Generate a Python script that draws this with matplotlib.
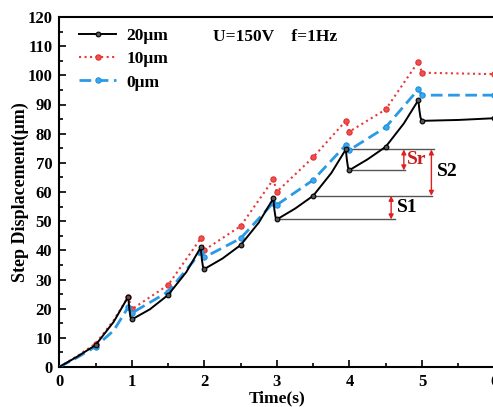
import matplotlib
matplotlib.use("Agg")
import matplotlib.pyplot as plt
from matplotlib.ticker import MultipleLocator

plt.rcParams['font.family'] = ['Liberation Serif', 'DejaVu Serif']
plt.rcParams['font.weight'] = 'bold'

# ---- data ----
t_black = [0, 0.25, 0.5, 0.75, 0.95, 0.965, 0.98, 1.0, 1.25, 1.5, 1.75, 1.95, 1.965, 1.98, 2.0,
           2.25, 2.5, 2.75, 2.95, 2.965, 2.98, 3.0, 3.25, 3.5, 3.75, 3.95, 3.965, 3.98, 4.0,
           4.25, 4.5, 4.75, 4.95, 4.965, 4.98, 5.0, 5.5, 6.0]
v_black = [0, 3.6, 7.5, 15.5, 24.1, 20.0, 17.2, 16.3, 19.8, 24.7, 32.5, 41.0, 37.0, 34.5, 33.6,
           37.2, 41.8, 49.5, 57.8, 54.0, 51.5, 50.6, 54.3, 58.7, 66.5, 74.6, 71.0, 68.5, 67.5,
           71.2, 75.5, 83.5, 91.5, 88.0, 85.5, 84.4, 84.7, 85.3]

t_red = [0, 0.25, 0.5, 0.75, 0.95, 1.0, 1.5, 1.95, 2.0, 2.5, 2.95, 3.0, 3.5, 3.95, 4.0,
         4.5, 4.95, 5.0, 6.0]
v_red = [0, 3.8, 8.0, 16.0, 24.1, 19.8, 28.1, 44.1, 40.1, 48.3, 64.3, 60.1, 71.9, 84.4, 80.7,
         88.3, 104.7, 100.9, 100.4]

t_blue = [0, 0.25, 0.5, 0.75, 0.95, 1.0, 1.5, 1.95, 2.0, 2.5, 2.95, 3.0, 3.5, 3.95, 4.0,
          4.5, 4.95, 5.0, 6.0]
v_blue = [0, 3.3, 7.0, 12.5, 20.5, 18.5, 25.8, 39.3, 37.6, 44.1, 56.3, 55.6, 64.1, 76.1, 74.4,
          82.2, 95.2, 93.2, 93.2]

marker_times = [0.5, 0.95, 1.0, 1.5, 1.95, 2.0, 2.5, 2.95, 3.0, 3.5, 3.95, 4.0, 4.5, 4.95, 5.0, 6.0]
labels = ['20μm', '10μm', '0μm']

# annotation levels
lvl_peak4 = 74.6
lvl_dip4 = 67.4
lvl_mid35 = 58.7
lvl_dip3 = 50.6

fig = plt.figure(figsize=(4.93, 4.07), dpi=100)
ax = fig.add_axes([59.3 / 493, 40 / 407, 435.2 / 493, 350 / 407])


def mk(ts):
    return [i for i, t in enumerate(ts) if t in marker_times]


ax.plot(t_black, v_black, '-', color='black', lw=1.4, marker='o', markersize=3.4,
        markerfacecolor='#555555', markeredgecolor='black', markeredgewidth=0.8,
        markevery=mk(t_black), label=labels[0], zorder=4)
ax.plot(t_red, v_red, ':', color='#e8383d', lw=1.5, marker='o', markersize=3.8,
        markerfacecolor='#f05050', markeredgecolor='#e03030', markeredgewidth=0.8,
        markevery=mk(t_red), label=labels[1], zorder=3)
ax.plot(t_blue, v_blue, '--', color='#2a9ae6', lw=2.0, dashes=(4.2, 2.0), marker='o',
        markersize=3.8, markerfacecolor='#3aa8f0', markeredgecolor='#1f90e0',
        markeredgewidth=0.8, markevery=mk(t_blue), label=labels[2], zorder=3)

# guide lines
gcol = '#555555'
ax.plot([3.97, 5.16], [lvl_peak4, lvl_peak4], color=gcol, lw=1.0, zorder=2)
ax.plot([4.01, 4.77], [lvl_dip4, lvl_dip4], color=gcol, lw=1.0, zorder=2)
ax.plot([3.51, 5.14], [lvl_mid35, lvl_mid35], color=gcol, lw=1.0, zorder=2)
ax.plot([3.01, 4.63], [lvl_dip3, lvl_dip3], color=gcol, lw=1.0, zorder=2)

arrow = dict(arrowstyle='<|-|>', color='#e02020', lw=1.0, mutation_scale=7,
             shrinkA=0, shrinkB=0)
ax.annotate('', xy=(4.75, lvl_peak4), xytext=(4.75, lvl_dip4), arrowprops=arrow)
ax.annotate('', xy=(5.13, lvl_peak4), xytext=(5.13, lvl_mid35), arrowprops=arrow)
ax.annotate('', xy=(4.575, lvl_mid35), xytext=(4.575, lvl_dip3), arrowprops=arrow)

ax.text(4.79, 71.2, 'Sr', color='#c81e1e', fontsize=14, fontweight='bold', va='center', ha='left')
ax.text(5.2, 67.0, 'S2', color='black', fontsize=14, fontweight='bold', va='center', ha='left')
ax.text(4.65, 54.7, 'S1', color='black', fontsize=14, fontweight='bold', va='center', ha='left')

ax.text(2.12, 113.0, 'U=150V    f=1Hz', fontsize=12.5, fontweight='bold', va='center', ha='left')

ax.set_xlim(0, 6)
ax.set_ylim(0, 120)
ax.xaxis.set_major_locator(MultipleLocator(1))
ax.xaxis.set_minor_locator(MultipleLocator(0.5))
ax.yaxis.set_major_locator(MultipleLocator(10))
ax.yaxis.set_minor_locator(MultipleLocator(5))
ax.tick_params(which='both', direction='in', width=1.2, labelsize=12)
ax.tick_params(which='major', length=5, pad=5)
ax.tick_params(which='minor', length=3)
for lab in ax.get_xticklabels() + ax.get_yticklabels():
    lab.set_fontweight('bold')
for s in ax.spines.values():
    s.set_linewidth(1.5)

ax.set_xlabel('Time(s)', fontsize=12.5, fontweight='bold', labelpad=0)
ax.set_ylabel('Step Displacement(μm)', fontsize=13, fontweight='bold', labelpad=-1)

leg = ax.legend(loc='upper left', frameon=False, fontsize=12.5, handlelength=2.1,
                bbox_to_anchor=(0.038, 0.98), borderaxespad=0.0, borderpad=0.2,
                labelspacing=0.42, handletextpad=0.6)
for tx in leg.get_texts():
    tx.set_fontweight('bold')

fig.savefig('out.png', dpi=100)
